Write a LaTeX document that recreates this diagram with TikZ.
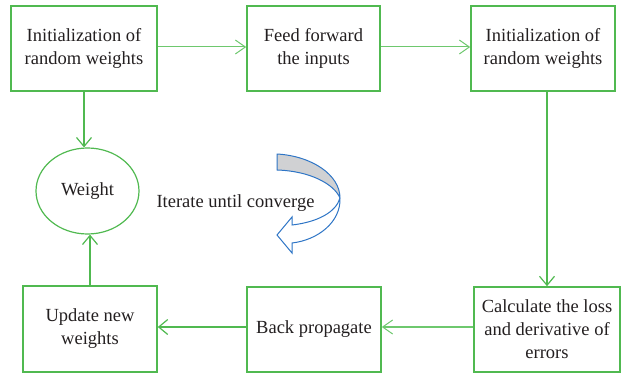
\documentclass[tikz,border=0pt]{standalone}
\usepackage{fontspec}
\setmainfont{Liberation Serif}
\usetikzlibrary{arrows.meta,shapes.geometric}
\definecolor{gr}{RGB}{80,185,80}
\definecolor{grl}{RGB}{110,200,110}
\definecolor{txt}{RGB}{35,31,32}
\definecolor{bl}{RGB}{46,117,198}
\definecolor{gy}{RGB}{208,209,211}
\begin{document}
\begin{tikzpicture}[x=1pt,y=-1pt,
  box/.style={draw=gr,line width=1.6pt,align=center,inner sep=0pt,text=txt,
    font=\fontsize{18.5}{23}\selectfont},
  conn/.style={draw=gr,line width=1.4pt,-{Straight Barb[length=9pt,width=15pt,line width=1.2pt]}},
  thin/.style={draw=grl,line width=1pt,-{Straight Barb[length=10pt,width=14pt,line width=1pt]}}]
\useasboundingbox (0,0) rectangle (621,377);
\node[box,minimum width=146pt,minimum height=85pt] (b1) at (84,48.5) {Initialization of\\random weights};
\node[box,minimum width=133pt,minimum height=85pt] (b2) at (313.5,48.5) {Feed forward\\the inputs};
\node[box,minimum width=144pt,minimum height=85pt] (b3) at (543,48.5) {Initialization of\\random weights};
\node[box,ellipse,line width=1.2pt,minimum width=103pt,minimum height=86pt] (w) at (87.5,191) {Weight};
\node[box,minimum width=134pt,minimum height=86pt] (up) at (90,329) {Update new\\weights};
\node[box,minimum width=134pt,minimum height=85pt] (bp) at (314,329.5) {Back propagate};
\node[box,minimum width=146pt,minimum height=85pt] (ca) at (547,329.5) {Calculate the loss\\and derivative of\\errors};
\node[text=txt,font=\fontsize{18.5}{23}\selectfont,inner sep=0pt] (it) at (235.5,203) {Iterate until converge};
\draw[thin] (b1.east |- 0,47) -- (b2.west |- 0,47);
\draw[thin] (b2.east |- 0,47) -- (b3.west |- 0,47);
\draw[conn] (b1.south) -- (b1.south |- w.north);
\draw[conn] (ca.north |- b3.south) -- (ca.north);
\draw[thin,line width=1.1pt] (ca.west |- 0,327) -- (bp.east |- 0,327);
\draw[conn] (bp.west |- 0,327) -- (up.east |- 0,327);
\draw[conn] (up.north) -- (up.north |- w.south);
% curved arrow
\draw[draw=bl,line width=1pt,fill=gy,line join=round]
  (277,154) .. controls (312,156) and (340,175) .. (340,198)
  .. controls (334,184) and (310,171) .. (277,170) -- cycle;
\draw[draw=bl,line width=1pt,fill=white,line join=miter]
  (340,198) .. controls (341,222) and (318,240) .. (292,243)
  -- (292,253) -- (277,235) -- (292,217) -- (292,225)
  .. controls (318,222) and (336,212) .. (340,198);
\end{tikzpicture}
\end{document}
